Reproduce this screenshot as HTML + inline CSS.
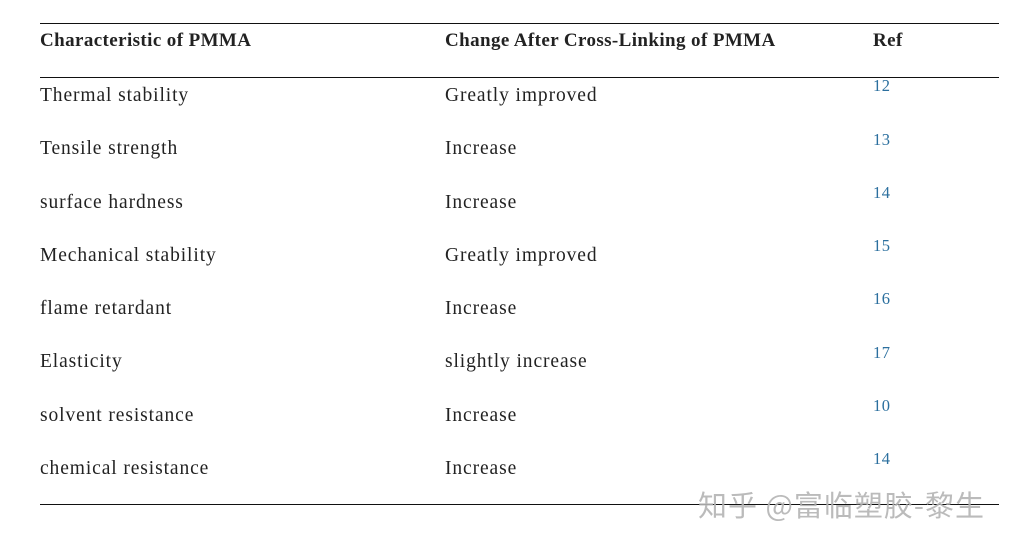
<!DOCTYPE html>
<html><head><meta charset="utf-8"><style>
body{margin:0;width:1009px;height:541px;background:#fff;position:relative;overflow:hidden;font-family:"Liberation Serif",serif;color:#222;}
.l{position:absolute;left:40px;width:959px;height:1px;background:#111;}
.t{position:absolute;font-size:19.5px;letter-spacing:0.9px;line-height:20px;white-space:nowrap;}
.h{font-weight:bold;letter-spacing:0.4px;font-size:19px;}
.r{position:absolute;font-size:16.5px;color:#2b6f9e;line-height:18px;letter-spacing:0.5px;}
.wm{position:absolute;left:698px;top:483px;font-family:"Noto Sans CJK SC",sans-serif;font-size:29px;color:rgba(180,180,180,0.9);letter-spacing:1px;white-space:nowrap;}
</style></head><body>
<div class="l" style="top:23px"></div>
<div class="l" style="top:77px"></div>
<div class="l" style="top:504px"></div>
<div class="t h" style="left:40px;top:31px">Characteristic of PMMA</div>
<div class="t h" style="left:445px;top:31px">Change After Cross-Linking of PMMA</div>
<div class="t h" style="left:873px;top:31px">Ref</div>

<div class="t" style="left:40px;top:86px">Thermal stability</div><div class="t" style="left:445px;top:86px">Greatly improved</div><div class="r" style="left:873px;top:77px">12</div>
<div class="t" style="left:40px;top:139px">Tensile strength</div><div class="t" style="left:445px;top:139px">Increase</div><div class="r" style="left:873px;top:131px">13</div>
<div class="t" style="left:40px;top:193px">surface hardness</div><div class="t" style="left:445px;top:193px">Increase</div><div class="r" style="left:873px;top:184px">14</div>
<div class="t" style="left:40px;top:246px">Mechanical stability</div><div class="t" style="left:445px;top:246px">Greatly improved</div><div class="r" style="left:873px;top:237px">15</div>
<div class="t" style="left:40px;top:299px">flame retardant</div><div class="t" style="left:445px;top:299px">Increase</div><div class="r" style="left:873px;top:290px">16</div>
<div class="t" style="left:40px;top:352px">Elasticity</div><div class="t" style="left:445px;top:352px">slightly increase</div><div class="r" style="left:873px;top:344px">17</div>
<div class="t" style="left:40px;top:406px">solvent resistance</div><div class="t" style="left:445px;top:406px">Increase</div><div class="r" style="left:873px;top:397px">10</div>
<div class="t" style="left:40px;top:459px">chemical resistance</div><div class="t" style="left:445px;top:459px">Increase</div><div class="r" style="left:873px;top:450px">14</div>
<div class="wm">知乎 @富临塑胶-黎生</div>
</body></html>
